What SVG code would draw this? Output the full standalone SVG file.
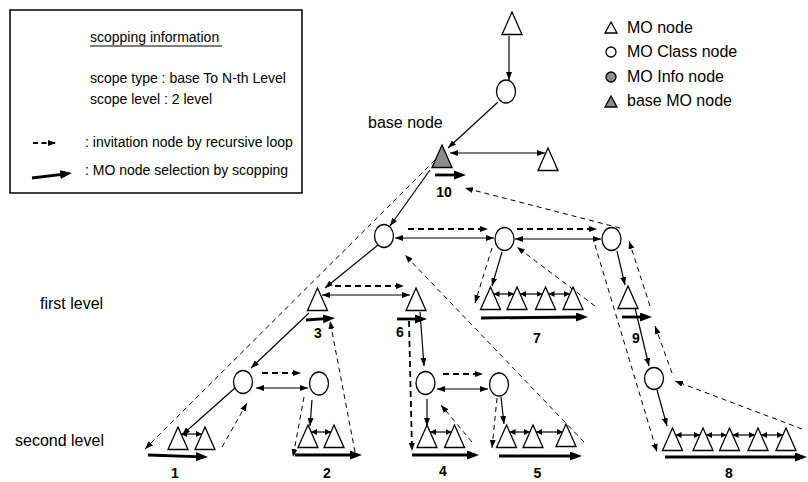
<svg xmlns="http://www.w3.org/2000/svg" xmlns:xlink="http://www.w3.org/1999/xlink" width="808" height="482" viewBox="0 0 808 482">
  <style>
    text { font-family: "Liberation Sans", Arial, sans-serif; fill: #000; }
    .t14 { font-size: 14px; }
    .t16 { font-size: 16px; }
    .num { font-size: 14px; font-weight: bold; text-anchor: middle; }
    .node { fill: #fff; stroke: #000; stroke-width: 1.3; }
    .base { fill: #8c8c8c; stroke: #000; stroke-width: 1.3; }
    .ln { fill: none; stroke: #000; stroke-width: 1.2; marker-end: url(#ah); }
    .dbl { marker-start: url(#ah); }
    .mini { fill: none; stroke: #000; stroke-width: 1.2; marker-start: url(#am); marker-end: url(#am); }
    .thick { fill: none; stroke: #000; stroke-width: 2.8; marker-end: url(#big); }
    .dsh { fill: none; stroke: #000; stroke-width: 1; stroke-dasharray: 5 4; marker-end: url(#ah); }
    .dsh2 { fill: none; stroke: #000; stroke-width: 1.8; stroke-dasharray: 6 4; marker-end: url(#ah); }
  </style>
  <defs>
    <marker id="ah" viewBox="0 0 8 6" refX="8" refY="3" markerWidth="8" markerHeight="6" markerUnits="userSpaceOnUse" orient="auto-start-reverse">
      <path d="M0,0 L8,3 L0,6 z"/>
    </marker>
    <marker id="am" viewBox="0 0 6 6" refX="6" refY="3" markerWidth="6" markerHeight="6" markerUnits="userSpaceOnUse" orient="auto-start-reverse">
      <path d="M0,0 L6,3 L0,6 z"/>
    </marker>
    <marker id="big" viewBox="0 0 12 9" refX="6" refY="4.5" markerWidth="12" markerHeight="9" markerUnits="userSpaceOnUse" orient="auto">
      <path d="M0,0 L12,4.5 L0,9 z"/>
    </marker>
    <path id="tri" d="M0,0 L10,22.5 L-10,22.5 z"/>
  </defs>

  <!-- legend: scoping information -->
  <g id="legend-scope">
    <rect x="10" y="10" width="292" height="183" fill="#fff" stroke="#000" stroke-width="1.5"/>
    <text class="t14" x="90" y="42">scopping information</text>
    <line x1="90" y1="46" x2="222" y2="46" stroke="#000" stroke-width="1"/>
    <text class="t14" x="90" y="83">scope type : base To N-th Level</text>
    <text class="t14" x="90" y="104">scope level : 2 level</text>
    <line x1="33" y1="143" x2="56" y2="143" stroke="#000" stroke-width="1.8" stroke-dasharray="5 3.5" marker-end="url(#ah)"/>
    <text class="t14" x="85" y="147">: invitation node by recursive loop</text>
    <line x1="32" y1="178" x2="66" y2="173.8" class="thick"/>
    <text class="t14" x="85" y="175">: MO node selection by scopping</text>
  </g>

  <!-- legend: node kinds -->
  <g id="legend-kinds">
    <path d="M611,22 L617,33 L605,33 z" class="node" stroke-width="1.1"/>
    <text class="t16" x="627" y="33">MO node</text>
    <circle cx="611" cy="52" r="5" class="node" stroke-width="1.1"/>
    <text class="t16" x="627" y="57">MO Class node</text>
    <circle cx="611" cy="77" r="5" class="base" stroke-width="1.1"/>
    <text class="t16" x="627" y="82">MO Info node</text>
    <path d="M611,96 L617,107 L605,107 z" class="base" stroke-width="1.1"/>
    <text class="t16" x="627" y="106">base MO node</text>
  </g>

  <!-- level captions -->
  <g id="captions">
    <text class="t16" x="368" y="128">base node</text>
    <text class="t16" x="40" y="309">first level</text>
    <text class="t16" x="15" y="446">second level</text>
  </g>

  <!-- connectors -->
  <g id="connectors">
    <!-- solid links -->
    <line class="ln" x1="509" y1="36" x2="509" y2="80"/>
    <line class="ln" x1="498" y1="102" x2="448" y2="148"/>
    <line class="ln dbl" x1="450" y1="153" x2="545" y2="153"/>
    <line class="ln" x1="430" y1="170" x2="390" y2="226"/>
    <line class="ln dbl" x1="395" y1="238" x2="494" y2="238"/>
    <line class="ln dbl" x1="515" y1="239" x2="601" y2="239"/>
    <line class="ln" x1="378" y1="245" x2="325" y2="288"/>
    <line class="ln dbl" x1="322" y1="295" x2="410" y2="295"/>
    <line class="ln" x1="309" y1="313" x2="251" y2="368"/>
    <line class="ln" x1="420" y1="312" x2="424" y2="366"/>
    <line class="ln dbl" x1="256" y1="388" x2="308" y2="388"/>
    <line class="ln dbl" x1="437" y1="389" x2="488" y2="389"/>
    <line class="ln" x1="235" y1="388" x2="182" y2="435"/>
    <line class="ln" x1="312" y1="400" x2="310" y2="426"/>
    <line class="ln" x1="427" y1="399" x2="427" y2="426"/>
    <line class="ln" x1="501" y1="397" x2="504" y2="424"/>
    <line class="ln" x1="502" y1="252" x2="492" y2="286"/>
    <line class="ln" x1="617" y1="251" x2="625" y2="285"/>
    <line class="ln" x1="635" y1="308" x2="649" y2="366"/>
    <line class="ln" x1="657" y1="390" x2="667" y2="426"/>

    <!-- sibling links -->
    <line class="mini" x1="181" y1="434" x2="202" y2="434"/>
    <line class="mini" x1="311" y1="432" x2="331" y2="432"/>
    <line class="mini" x1="430" y1="432" x2="451.5" y2="432"/>
    <line class="mini" x1="509.5" y1="432" x2="530" y2="432"/>
    <line class="mini" x1="536" y1="432" x2="563" y2="432"/>
    <line class="mini" x1="493.5" y1="294" x2="514" y2="294"/>
    <line class="mini" x1="520" y1="294" x2="542.5" y2="294"/>
    <line class="mini" x1="548.5" y1="294" x2="570" y2="294"/>
    <line class="mini" x1="675.5" y1="435" x2="700" y2="435"/>
    <line class="mini" x1="706" y1="435" x2="726.5" y2="435"/>
    <line class="mini" x1="732.5" y1="435" x2="755" y2="435"/>
    <line class="mini" x1="761" y1="435" x2="783" y2="435"/>

    <!-- scoping selections -->
    <line class="thick" x1="435" y1="175" x2="460" y2="175"/>
    <line class="thick" x1="306" y1="320" x2="329" y2="318.4"/>
    <line class="thick" x1="397" y1="319" x2="421" y2="319"/>
    <line class="thick" x1="481" y1="318" x2="582" y2="317"/>
    <line class="thick" x1="622" y1="317" x2="646" y2="317"/>
    <line class="thick" x1="148" y1="455" x2="202" y2="456.8"/>
    <line class="thick" x1="295" y1="455" x2="356" y2="455"/>
    <line class="thick" x1="412" y1="455" x2="473" y2="455"/>
    <line class="thick" x1="499" y1="456" x2="576" y2="456"/>
    <line class="thick" x1="665" y1="457" x2="801" y2="457"/>

    <!-- recursive loop, sibling steps -->
    <line class="dsh2" x1="408" y1="229" x2="488" y2="229"/>
    <line class="dsh2" x1="517" y1="229" x2="597" y2="229"/>
    <line class="dsh2" x1="335" y1="286" x2="404" y2="286"/>
    <line class="dsh2" x1="262" y1="373" x2="301" y2="373"/>
    <line class="dsh2" x1="443" y1="374" x2="483" y2="374"/>
    <line class="dsh2" x1="409" y1="321" x2="412" y2="451" stroke-width="1.5"/>

    <!-- recursive loop, descents and returns -->
    <line class="dsh" x1="435" y1="160" x2="145" y2="449"/>
    <line class="dsh" x1="222" y1="447" x2="247" y2="403"/>
    <line class="dsh" x1="304" y1="397" x2="293" y2="457"/>
    <line class="dsh" x1="355" y1="452" x2="330" y2="321"/>
    <line class="dsh" x1="472" y1="442" x2="441" y2="405"/>
    <line class="dsh" x1="497" y1="398" x2="492" y2="448"/>
    <line class="dsh" x1="584" y1="442" x2="405" y2="255"/>
    <line class="dsh" x1="492" y1="248" x2="475" y2="303"/>
    <line class="dsh" x1="595" y1="306" x2="517" y2="247"/>
    <line class="dsh" x1="620" y1="228" x2="465" y2="188"/>
    <line class="dsh" x1="595" y1="245" x2="657" y2="452"/>
    <line class="dsh" x1="802" y1="429" x2="675" y2="381"/>
    <line class="dsh" x1="672" y1="373" x2="655" y2="326"/>
    <line class="dsh" x1="650" y1="306" x2="629" y2="241"/>
  </g>

  <!-- nodes -->
  <g id="n-top"><use xlink:href="#tri" x="512" y="12" class="node"/></g>
  <g id="n-top-class"><ellipse cx="506" cy="91.5" rx="9.5" ry="11.5" class="node"/></g>
  <g id="n-base"><use xlink:href="#tri" x="442" y="145" class="base"/></g>
  <g id="n-side"><use xlink:href="#tri" x="548" y="148" class="node"/></g>

  <g id="n-c1"><ellipse cx="384" cy="236" rx="9.5" ry="11.5" class="node"/></g>
  <g id="n-c2"><ellipse cx="504.5" cy="239" rx="9.5" ry="11.5" class="node"/></g>
  <g id="n-c3"><ellipse cx="611.5" cy="239" rx="9.5" ry="11.5" class="node"/></g>

  <g id="n-t3"><use xlink:href="#tri" x="317.5" y="288" class="node"/></g>
  <g id="n-t6"><use xlink:href="#tri" x="416" y="288" class="node"/></g>
  <g id="n-t7a"><use xlink:href="#tri" x="490.5" y="287" class="node"/></g>
  <g id="n-t7b"><use xlink:href="#tri" x="517" y="287" class="node"/></g>
  <g id="n-t7c"><use xlink:href="#tri" x="545.5" y="287" class="node"/></g>
  <g id="n-t7d"><use xlink:href="#tri" x="573" y="287" class="node"/></g>
  <g id="n-t9"><use xlink:href="#tri" x="628" y="286" class="node"/></g>

  <g id="n-c4"><ellipse cx="243" cy="382" rx="9.5" ry="11.5" class="node"/></g>
  <g id="n-c5"><ellipse cx="319" cy="383.5" rx="9.5" ry="11.5" class="node"/></g>
  <g id="n-c6"><ellipse cx="425.5" cy="383" rx="9.5" ry="11.5" class="node"/></g>
  <g id="n-c7"><ellipse cx="499" cy="384.5" rx="9.5" ry="11.5" class="node"/></g>
  <g id="n-c8"><ellipse cx="654" cy="378.5" rx="9.5" ry="11" class="node"/></g>

  <g id="n-t1a"><use xlink:href="#tri" x="178" y="427" class="node"/></g>
  <g id="n-t1b"><use xlink:href="#tri" x="205" y="427" class="node"/></g>
  <g id="n-t2a"><use xlink:href="#tri" x="308" y="425" class="node"/></g>
  <g id="n-t2b"><use xlink:href="#tri" x="334" y="425" class="node"/></g>
  <g id="n-t4a"><use xlink:href="#tri" x="427" y="425" class="node"/></g>
  <g id="n-t4b"><use xlink:href="#tri" x="454.5" y="425" class="node"/></g>
  <g id="n-t5a"><use xlink:href="#tri" x="506.5" y="425" class="node"/></g>
  <g id="n-t5b"><use xlink:href="#tri" x="533" y="425" class="node"/></g>
  <g id="n-t5c"><use xlink:href="#tri" x="566" y="424" class="node"/></g>
  <g id="n-t8a"><use xlink:href="#tri" x="672.5" y="428" class="node"/></g>
  <g id="n-t8b"><use xlink:href="#tri" x="703" y="428" class="node"/></g>
  <g id="n-t8c"><use xlink:href="#tri" x="729.5" y="428" class="node"/></g>
  <g id="n-t8d"><use xlink:href="#tri" x="758" y="428" class="node"/></g>
  <g id="n-t8e"><use xlink:href="#tri" x="786" y="428" class="node"/></g>

  <!-- selection order numbers -->
  <g id="order-labels">
    <text class="num" x="444" y="197">10</text>
    <text class="num" x="318" y="338">3</text>
    <text class="num" x="400" y="337">6</text>
    <text class="num" x="537" y="343">7</text>
    <text class="num" x="636" y="343">9</text>
    <text class="num" x="175" y="478">1</text>
    <text class="num" x="327" y="478">2</text>
    <text class="num" x="443" y="476">4</text>
    <text class="num" x="537.5" y="478">5</text>
    <text class="num" x="729" y="478">8</text>
  </g>
</svg>
